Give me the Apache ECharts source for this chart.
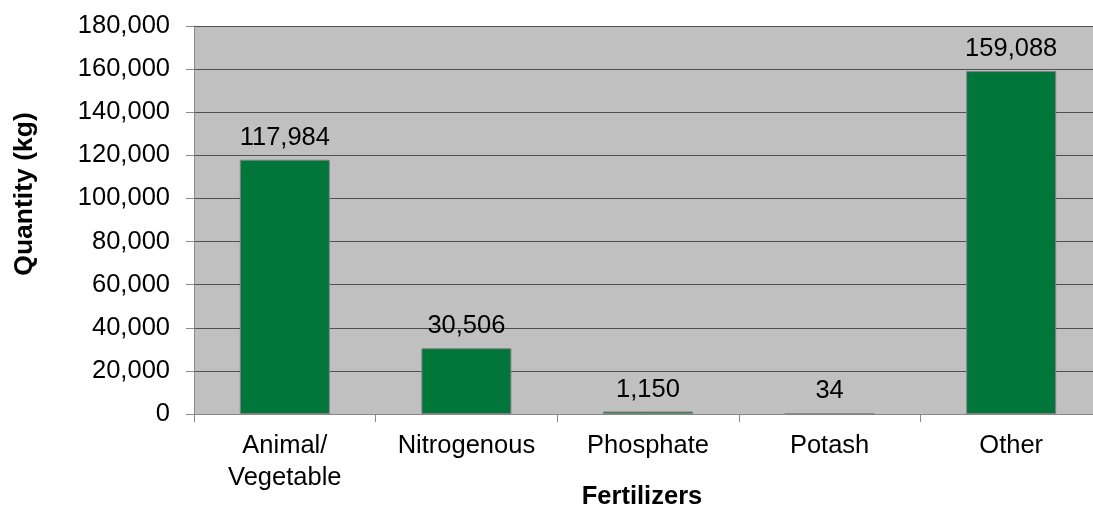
<!DOCTYPE html>
<html>
<head>
<meta charset="utf-8">
<script src="https://cdn.jsdelivr.net/npm/echarts@6/dist/echarts.min.js"></script>
<style>
html,body{margin:0;padding:0;background:#fff;}
#chart{width:1093px;height:508px;}
</style>
</head>
<body>
<div id="chart"></div>
<script>
const categories = ["Animal/\nVegetable", "Nitrogenous", "Phosphate", "Potash", "Other"];
const quantities = [117984, 30506, 1150, 34, 159088];
const yTicks = { min: 0, max: 180000, interval: 20000 };
const xTitle = "Fertilizers";
const yTitle = "Quantity (kg)";

const FONT = "'Liberation Sans', Arial, sans-serif";
const fmt = v => Number(v).toLocaleString('en-US');

const chart = echarts.init(document.getElementById('chart'), null, { renderer: 'canvas' });
chart.setOption({
  animation: false,
  backgroundColor: '#ffffff',
  grid: {
    left: 194, top: 26, width: 908, height: 388,
    outerBoundsMode: 'none', containLabel: false,
    show: true, backgroundColor: '#C0C0C0', borderWidth: 0
  },
  xAxis: {
    type: 'category',
    data: categories,
    name: xTitle,
    nameLocation: 'middle',
    nameGap: 70,
    nameMoveOverlap: false,
    nameTextStyle: { fontFamily: FONT, fontSize: 25.5, fontWeight: 'bold', color: '#000', padding: [0, 12, 0, 0] },
    axisLine: { show: true, lineStyle: { color: '#888888', width: 1 } },
    axisTick: { show: true, length: 8, lineStyle: { color: '#888888' } },
    axisLabel: { fontFamily: FONT, fontSize: 25.5, color: '#000', margin: 16, lineHeight: 32, interval: 0 },
    splitLine: { show: false }
  },
  yAxis: {
    type: 'value',
    min: yTicks.min, max: yTicks.max, interval: yTicks.interval,
    name: yTitle,
    nameLocation: 'middle',
    nameGap: 156,
    nameMoveOverlap: false,
    nameTextStyle: { fontFamily: FONT, fontSize: 26.5, fontWeight: 'bold', color: '#000', padding: [0, 0, 0, 52] },
    axisLine: { show: true, lineStyle: { color: '#888888', width: 1 } },
    axisTick: { show: true, length: 8, lineStyle: { color: '#888888' } },
    axisLabel: { fontFamily: FONT, fontSize: 25.5, color: '#000', margin: 24, formatter: v => fmt(v) },
    splitLine: { show: true, lineStyle: { color: '#505050', width: 1 } }
  },
  series: [{
    type: 'bar',
    data: quantities,
    barWidth: 90,
    itemStyle: { color: '#00763A', borderColor: '#808080', borderWidth: 1 },
    label: {
      show: true, position: 'top', distance: 7,
      fontFamily: FONT, fontSize: 25.5, color: '#000', lineHeight: 30,
      formatter: p => fmt(p.value)
    }
  }]
});
</script>
</body>
</html>
